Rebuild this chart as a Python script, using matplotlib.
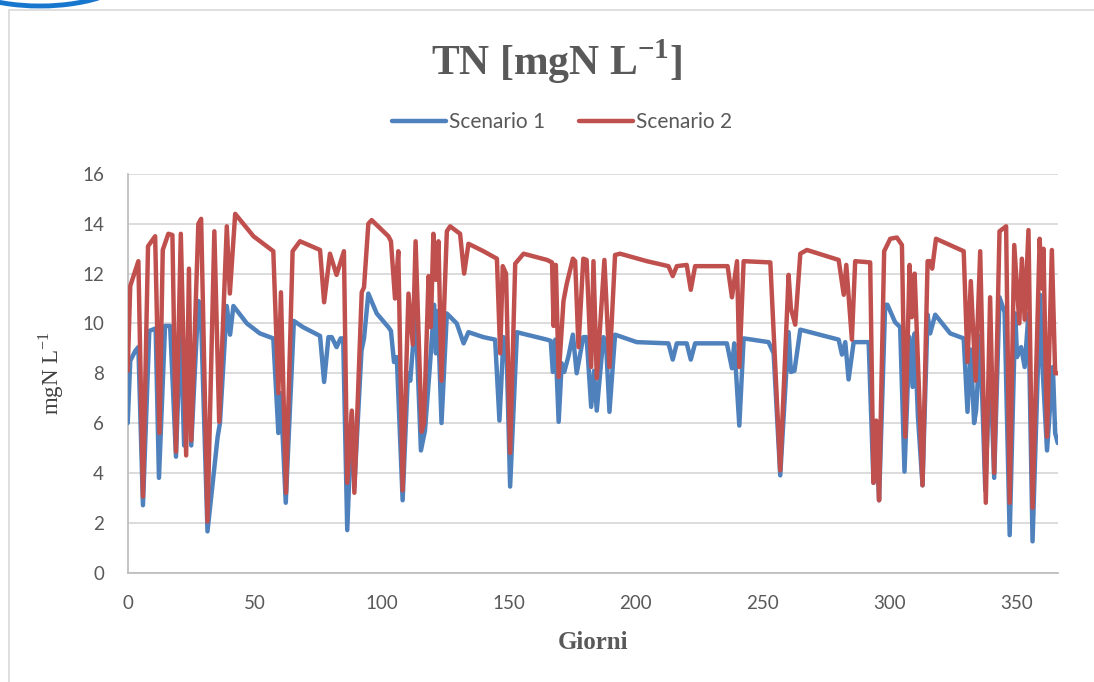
import matplotlib
matplotlib.use("Agg")
import matplotlib.pyplot as plt
from matplotlib.patches import Rectangle, Ellipse

# ---- data (day, value) ----
days_s1 = [0, 1, 3, 4.2, 6, 8.5, 11, 12.3, 14.7, 16.7, 19, 20.8, 22.2, 23.6, 25,
           27.8, 28.7, 31.4, 35.4, 36.3, 39, 40.3, 41.6, 46.9, 52, 57.3, 59.3,
           60.2, 62.2, 65.4, 69, 75.7, 77.3, 79, 80.3, 82.2, 83.8, 84.8, 86.4,
           88.2, 89.2, 92, 93, 94.7, 98, 102.6, 103.6, 104.8, 105.9, 108.2,
           110.3, 111.2, 113.3, 115.4, 117, 119, 120.6, 121.3, 122, 123.5,
           125.6, 129.5, 132.2, 134.1, 140, 144.6, 146.3, 147.9, 149, 150.5,
           153.2, 155, 165, 166.5, 167.3, 168.3, 169.6, 170.8, 171.8, 173.5,
           175.2, 176.7, 179.3, 180.6, 182.4, 183.5, 184.6, 187.2, 188.2,
           189.6, 191.8, 200.3, 212.8, 214.5, 216.1, 220, 221.6, 223.3, 235.8,
           237.8, 238.7, 240.7, 242.4, 252.2, 254.2, 256.8, 260.1, 261, 262.4,
           264.7, 279.8, 281.1, 282.4, 283.7, 285.7, 291.6, 293.5, 294.6,
           295.7, 298.1, 299, 302, 304, 305.7, 307.7, 308.9, 309.7, 311,
           312.8, 314.8, 315.8, 317.8, 323.7, 329, 330.5, 331.8, 333.1, 333.9,
           335.5, 337.5, 339.4, 341, 343.1, 345.1, 347.1, 349.3, 350, 351.6,
           353, 354.5, 356.1, 359.1, 359.8, 361.8, 364.1, 365, 366]
tn_s1 = [6.0, 8.5, 8.9, 9.05, 2.7, 9.7, 9.8, 3.8, 9.9, 9.9, 4.65, 9.9, 5.1, 9.0, 5.1,
         10.9, 10.8, 1.65, 5.45, 6.0, 10.7, 9.55, 10.7, 10.0, 9.6, 9.4, 5.6,
         7.2, 2.8, 10.1, 9.85, 9.5, 7.65, 9.45, 9.45, 9.05, 9.4, 9.4, 1.7,
         6.4, 3.45, 8.9, 9.4, 11.2, 10.4, 9.85, 9.7, 8.45, 8.65, 2.9,
         8.0, 7.7, 10.4, 4.9, 5.7, 8.4, 10.75, 8.8, 10.5, 6.0,
         10.4, 10.0, 9.2, 9.65, 9.45, 9.35, 6.1, 9.45, 9.3, 3.45,
         9.65, 9.6, 9.35, 9.3, 8.05, 9.35, 6.05, 8.4, 8.05, 8.7,
         9.55, 8.0, 9.45, 9.45, 6.65, 8.1, 6.5, 9.45, 9.3,
         6.45, 9.55, 9.25, 9.2, 8.55, 9.2, 9.2, 8.55, 9.2, 9.2,
         8.2, 9.2, 5.9, 9.4, 9.25, 8.8, 3.9, 9.65, 8.05, 8.1,
         9.75, 9.35, 8.75, 9.25, 7.75, 9.25, 9.25, 3.6, 5.8,
         2.9, 10.75, 10.75, 10.05, 9.85, 4.05, 9.45, 7.45, 9.6, 6.25,
         3.5, 10.35, 9.6, 10.35, 9.6, 9.4, 6.45, 8.95, 6.0, 6.5,
         9.5, 3.3, 8.5, 3.8, 11.05, 10.45, 1.5, 10.4, 8.65, 9.05,
         8.25, 10.4, 1.25, 11.15, 8.65, 4.9, 8.25, 5.6, 5.2]

days_s2 = [0, 1, 4.2, 6, 8, 10.8, 12.5, 13.8, 16, 17.6, 19, 20.9, 23, 24.1, 25,
           27.8, 28.9, 31.4, 34.1, 36, 39, 40.2, 42.3, 49.5, 56.7, 57.3, 59.3,
           60.3, 62.3, 64.9, 67.8, 75.7, 77.3, 79.6, 82.2, 85.1, 86.4, 88.2,
           89.2, 92.1, 93, 94.7, 96, 102.6, 103.6, 105.2, 106.5, 108.2, 110.5,
           112.2, 113.3, 115.7, 116.6, 118.4, 119.3, 120.3, 121.3, 122.3,
           123.5, 125.6, 126.9, 130.8, 132.4, 134.1, 140, 145.3, 146.6, 147.6,
           148.9, 150.5, 152.5, 155.8, 165, 167, 167.6, 168.5, 169.6, 171.5,
           172.8, 175.2, 176.1, 177.4, 179.3, 180.6, 182.4, 183.3, 184.6,
           187.6, 189.6, 191.8, 193.8, 204.3, 212.8, 214.5, 216.1, 220, 221.6,
           223.3, 236.1, 237.8, 239.8, 240.7, 242.4, 252.9, 256.8, 260.1, 261,
           262.7, 264.7, 267.3, 279.8, 281.8, 282.8, 285, 286.3, 292.2, 293.5,
           294.6, 295.7, 297.7, 300.1, 302.7, 304.7, 306, 307.7, 308.6, 309.7,
           312.8, 314.8, 315.8, 316.6, 318.1, 329, 330.5, 331.8, 333.7, 335.5,
           337.7, 339.4, 341, 343.1, 345.7, 347.1, 348.9, 350.9, 351.9, 353,
           354.5, 356.1, 358.9, 359.8, 360.4, 361.8, 363.7, 365, 366]
tn_s2 = [8.1, 11.5, 12.5, 3.05, 13.1, 13.5, 5.6, 12.95, 13.6, 13.55, 4.85, 13.6, 4.7, 12.2, 5.3,
         14.0, 14.2, 2.05, 13.7, 6.05, 13.9, 11.2, 14.4, 13.5, 12.95, 12.9, 7.2,
         11.25, 3.2, 12.9, 13.3, 12.95, 10.85, 12.8, 11.95, 12.9, 3.6, 6.5,
         3.2, 11.25, 11.45, 14.0, 14.15, 13.5, 13.3, 11.0, 12.9, 3.3, 11.2,
         9.15, 13.3, 5.65, 6.0, 11.9, 9.85, 13.6, 11.75, 13.3,
         7.7, 13.7, 13.9, 13.6, 12.0, 13.2, 12.9, 12.6, 8.8, 12.3,
         12.0, 4.8, 12.4, 12.8, 12.55, 12.45, 9.9, 12.35, 7.85, 10.9,
         11.6, 12.6, 12.5, 9.05, 12.6, 12.55, 8.25, 12.5, 7.8,
         12.55, 8.25, 12.75, 12.8, 12.5, 12.3, 11.9, 12.3, 12.35, 11.35,
         12.3, 12.3, 11.05, 12.5, 8.25, 12.5, 12.45, 4.1, 11.95, 10.6,
         9.95, 12.8, 12.95, 12.55, 11.15, 12.35, 9.35, 12.5, 12.45, 3.6,
         6.1, 2.9, 12.9, 13.4, 13.45, 13.15, 5.45, 12.35, 10.25, 12.0,
         3.5, 12.5, 12.5, 12.2, 13.4, 12.9, 8.45, 11.7, 7.7, 12.9,
         2.8, 11.05, 4.0, 13.7, 13.9, 2.8, 13.15, 10.0, 12.6, 10.15,
         13.75, 2.6, 13.4, 11.4, 13.0, 5.45, 12.95, 8.0, 8.0]

series_names = ["Scenario 1", "Scenario 2"]
x_ticks = [0, 50, 100, 150, 200, 250, 300, 350]
y_ticks = [0, 2, 4, 6, 8, 10, 12, 14, 16]

# ---- figure ----
W, H = 1094, 682
fig = plt.figure(figsize=(W / 100, H / 100), dpi=100)
fig.patch.set_facecolor("white")

# chart area border + decorative arc
fig.add_artist(Rectangle((8.5 / W, -0.05), 1.2, (H - 10) / H + 0.05,
                         transform=fig.transFigure, fill=False,
                         edgecolor="#D9D9D9", lw=1.2))
fig.add_artist(Ellipse((40 / W, 1 + 32 / H), 190 / W, 76 / H,
                       transform=fig.transFigure, fill=False,
                       edgecolor="#1777CF", lw=3.5))

ax = fig.add_axes([127.7 / W, 1 - 572.5 / H, (1057.7 - 127.7) / W,
                   (572.5 - 174) / H])

blue = "#4F81BD"
red = "#C0504D"
ax.plot(days_s1, tn_s1, color=blue, lw=3.2, solid_joinstyle="round",
        solid_capstyle="round", label=series_names[0], zorder=3)
ax.plot(days_s2, tn_s2, color=red, lw=3.2, solid_joinstyle="round",
        solid_capstyle="round", label=series_names[1], zorder=4)

ax.set_xlim(0, 366)
ax.set_ylim(0, 16)
ax.set_xticks(x_ticks)
ax.set_yticks(y_ticks)
ax.grid(axis="y", color="#D9D9D9", lw=1.3)
ax.set_axisbelow(True)
for s in ["top", "right"]:
    ax.spines[s].set_visible(False)
for s in ["left", "bottom"]:
    ax.spines[s].set_color("#BFBFBF")
    ax.spines[s].set_linewidth(1.3)
ax.tick_params(length=0, labelsize=13.5, labelcolor="#595959")
ax.tick_params(axis="y", pad=17)
ax.tick_params(axis="x", pad=16)
for lab in ax.get_xticklabels() + ax.get_yticklabels():
    lab.set_family("Lato")

ax.set_xlabel("Giorni", family="Liberation Serif", fontweight="bold",
              fontsize=18, color="#595959", labelpad=14)
ax.set_ylabel("mgN L$^{\\mathregular{-1}}$", family="Liberation Serif",
              fontsize=16.5, color="#404040", labelpad=12)

fig.text(557 / W, 1 - 62 / H, "TN [mgN L$^{\\mathregular{-1}}$]",
         family="Liberation Serif", fontweight="bold", fontsize=30,
         color="#595959", ha="center", va="center")

leg = fig.legend(loc="center", bbox_to_anchor=(562 / W, 1 - 122 / H),
                 ncol=2, frameon=False, handlelength=2.6, handletextpad=0.15,
                 columnspacing=1.6, prop={"family": "Lato", "size": 15})
for t in leg.get_texts():
    t.set_color("#595959")

fig.savefig("out.png", dpi=100)
